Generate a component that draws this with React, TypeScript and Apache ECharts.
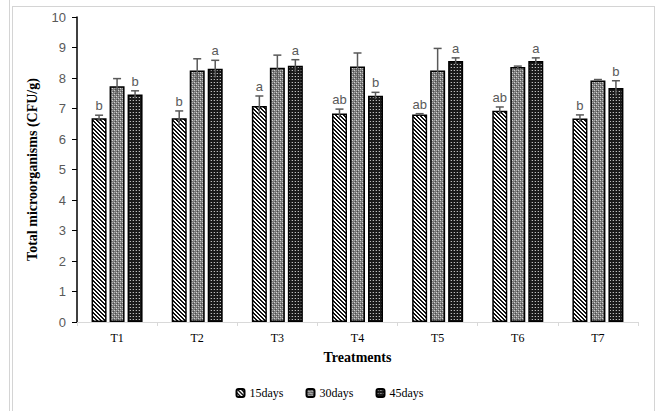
import React, { useEffect, useRef } from "react";
import * as echarts from "echarts";

// Treatments on the x axis
const categories = ["T1", "T2", "T3", "T4", "T5", "T6", "T7"];
const seriesNames = ["15days", "30days", "45days"];

// Mean total microorganisms (CFU/g)
const days15 = [6.68, 6.68, 7.08, 6.84, 6.8, 6.93, 6.67];
const days30 = [7.73, 8.25, 8.34, 8.38, 8.25, 8.36, 7.92];
const days45 = [7.46, 8.3, 8.4, 7.42, 8.56, 8.56, 7.67];

// Standard errors
const err15 = [0.1, 0.24, 0.33, 0.14, 0.03, 0.12, 0.12];
const err30 = [0.25, 0.38, 0.41, 0.44, 0.72, 0.03, 0.03];
const err45 = [0.12, 0.28, 0.2, 0.11, 0.1, 0.1, 0.24];

// Significance letters
const letters15 = ["b", "b", "a", "ab", "ab", "ab", "b"];
const letters30 = ["", "", "", "", "", "", ""];
const letters45 = ["b", "a", "a", "b", "a", "a", "b"];

const yTicks = [0, 1, 2, 3, 4, 5, 6, 7, 8, 9, 10];

function makeTile(size: number, draw: (ctx: CanvasRenderingContext2D) => void) {
  const c = document.createElement("canvas");
  c.width = size;
  c.height = size;
  const ctx = c.getContext("2d")!;
  draw(ctx);
  return c;
}

function px(ctx: CanvasRenderingContext2D, x: number, y: number, color: string) {
  ctx.fillStyle = color;
  ctx.fillRect(x, y, 1, 1);
}

// Diagonal black/white hatch
function stripeTile() {
  return makeTile(4, (ctx) => {
    ctx.fillStyle = "#ffffff";
    ctx.fillRect(0, 0, 4, 4);
    for (let y = 0; y < 4; y++)
      for (let x = 0; x < 4; x++) {
        const d = (((x - y) % 4) + 4) % 4;
        if (d === 0 || d === 1) px(ctx, x, y, "#111111");
      }
  });
}

// Mid-grey checked weave
function greyTile() {
  return makeTile(4, (ctx) => {
    ctx.fillStyle = "#7a7a7a";
    ctx.fillRect(0, 0, 4, 4);
    px(ctx, 0, 0, "#d8d8d8");
    px(ctx, 2, 2, "#cfcfcf");
    px(ctx, 2, 0, "#a8a8a8");
    px(ctx, 0, 2, "#a8a8a8");
    px(ctx, 1, 3, "#4a4a4a");
    px(ctx, 3, 1, "#4a4a4a");
  });
}

// Dark checked weave
function darkTile() {
  return makeTile(3, (ctx) => {
    ctx.fillStyle = "#1a1a1a";
    ctx.fillRect(0, 0, 3, 3);
    px(ctx, 1, 1, "#bdbdbd");
    px(ctx, 0, 1, "#4a4a4a");
  });
}

export default function App() {
  const ref = useRef<HTMLDivElement>(null);

  useEffect(() => {
    if (!ref.current) return;
    const chart = echarts.init(ref.current, null, { renderer: "svg" });

    const patterns = [stripeTile(), greyTile(), darkTile()];
    const values = [days15, days30, days45];
    const errors = [err15, err30, err45];
    const letters = [letters15, letters30, letters45];

    const barW = 15;
    const step = 18;

    const barSeries = values.map((vals, s) => ({
      name: seriesNames[s],
      type: "bar",
      data: vals,
      barWidth: barW,
      barGap: "20%",
      itemStyle: {
        color: { image: patterns[s], repeat: "repeat" },
        borderColor: "#000000",
        borderWidth: 1.5,
      },
      emphasis: { disabled: true },
    }));

    const errData: any[] = [];
    values.forEach((vals, s) =>
      vals.forEach((v, i) => errData.push([i, v, errors[s][i], s, letters[s][i]]))
    );

    const errorSeries = {
      type: "custom",
      name: "err",
      data: errData,
      z: 5,
      silent: true,
      itemStyle: { color: "#595959" },
      renderItem: (params: any, api: any) => {
        const i = api.value(0);
        const v = api.value(1);
        const e = api.value(2);
        const s = api.value(3);
        const letter = errData[params.dataIndex][4];
        const offset = (s - 1) * step;
        const top = api.coord([i, v + e]);
        const bot = api.coord([i, v - e]);
        const x = top[0] + offset;
        const children: any[] = [
          {
            type: "line",
            shape: { x1: x, y1: top[1], x2: x, y2: bot[1] },
            style: { stroke: "#595959", lineWidth: 1.5 },
          },
          {
            type: "line",
            shape: { x1: x - 4, y1: top[1], x2: x + 4, y2: top[1] },
            style: { stroke: "#595959", lineWidth: 1.5 },
          },
        ];
        if (letter) {
          children.push({
            type: "text",
            x,
            y: top[1] - 3,
            style: {
              text: letter,
              fill: "#595959",
              font: "13px 'Liberation Sans', sans-serif",
              align: "center",
              verticalAlign: "bottom",
            },
          });
        }
        return { type: "group", children };
      },
    };

    chart.setOption({
      animation: false,
      backgroundColor: "#ffffff",
      grid: { left: 77, right: 21, top: 17, bottom: 89, containLabel: false },
      legend: {
        data: seriesNames,
        left: "center",
        top: 382,
        itemWidth: 8,
        itemHeight: 8,
        itemGap: 22,
        textStyle: {
          fontFamily: "'Liberation Serif', serif",
          fontSize: 12,
          color: "#000000",
        },
      },
      xAxis: {
        type: "category",
        data: categories,
        name: "Treatments",
        nameLocation: "middle",
        nameGap: 28,
        nameTextStyle: {
          fontFamily: "'Liberation Serif', serif",
          fontWeight: "bold",
          fontSize: 14,
          color: "#000000",
        },
        axisLine: { lineStyle: { color: "#d9d9d9", width: 1 } },
        axisTick: { show: true, length: 4, lineStyle: { color: "#d9d9d9" } },
        axisLabel: {
          margin: 10,
          fontFamily: "'Liberation Serif', serif",
          fontSize: 12,
          color: "#000000",
        },
      },
      yAxis: {
        type: "value",
        min: yTicks[0],
        max: yTicks[yTicks.length - 1],
        interval: 1,
        name: "Total microorganisms (CFU/g)",
        nameLocation: "middle",
        nameGap: 38,
        nameRotate: 90,
        nameTextStyle: {
          fontFamily: "'Liberation Serif', serif",
          fontWeight: "bold",
          fontSize: 14,
          color: "#000000",
        },
        splitLine: { show: false },
        axisLine: { show: true, lineStyle: { color: "#000000", width: 1.5 } },
        axisTick: { show: true, length: 5, lineStyle: { color: "#000000" } },
        axisLabel: {
          margin: 11,
          fontFamily: "'Liberation Sans', sans-serif",
          fontSize: 13,
          color: "#595959",
        },
      },
      graphic: [
        { type: "line", shape: { x1: 9.5, y1: 0, x2: 9.5, y2: 411 }, style: { stroke: "#d4d4d4", lineWidth: 1 } },
        { type: "line", shape: { x1: 12.5, y1: 6, x2: 12.5, y2: 411 }, style: { stroke: "#d4d4d4", lineWidth: 1 } },
        { type: "line", shape: { x1: 12, y1: 6.5, x2: 655, y2: 6.5 }, style: { stroke: "#d4d4d4", lineWidth: 1 } },
        { type: "line", shape: { x1: 654.5, y1: 6, x2: 654.5, y2: 411 }, style: { stroke: "#d4d4d4", lineWidth: 1 } },
      ],
      series: [...barSeries, errorSeries],
    });

    return () => chart.dispose();
  }, []);

  return (
    <div
      ref={ref}
      style={{ position: "fixed", left: 0, top: 0, width: 659, height: 411, background: "#fff" }}
    />
  );
}
